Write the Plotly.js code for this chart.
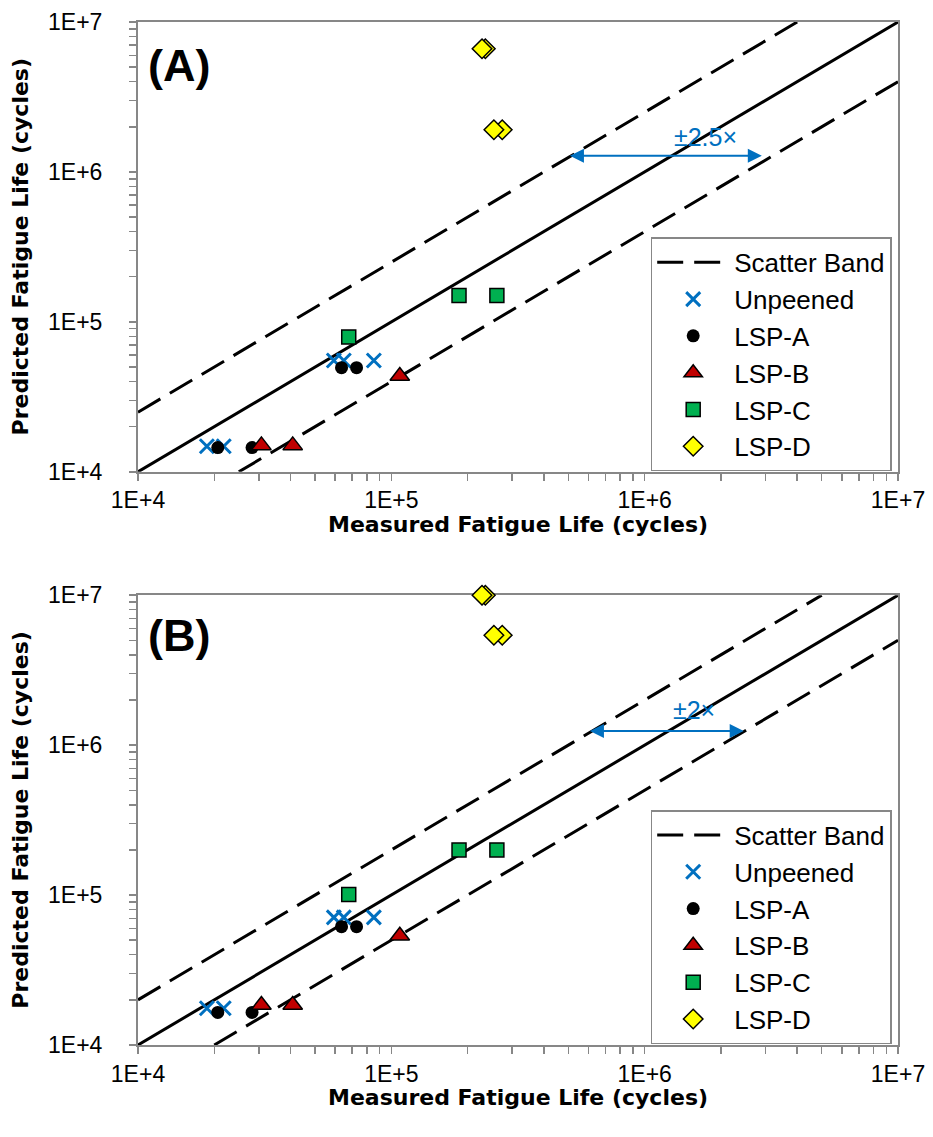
<!DOCTYPE html>
<html>
<head>
<meta charset="utf-8">
<script src="https://cdn.plot.ly/plotly-3.0.1.min.js"></script>
<style>
  html, body { margin: 0; padding: 0; background: #ffffff; }
  #chart { width: 933px; height: 1137px; }
</style>
</head>
<body>
<div id="chart"></div>
<script>
// Measured fatigue life (cycles) for each specimen group
const measuredUnpeened = [18700, 21800, 59300, 64900, 85300];
const measuredLspA = [20650, 28200, 63600, 72900];
const measuredLspB = [30700, 40800, 108000];
const measuredLspC = [67900, 185000, 261000];
const measuredLspD = [235000, 228000, 274000, 254000];

// Predicted fatigue life, model (A)
const predA_Unpeened = [14800, 14800, 55300, 55300, 55300];
const predA_LspA = [14500, 14500, 49500, 49500];
const predA_LspB = [15000, 15000, 43500];
const predA_LspC = [79300, 150000, 150000];
const predA_LspD = [6630000, 6630000, 1910000, 1910000];

// Predicted fatigue life, model (B)
const predB_Unpeened = [17600, 17600, 71000, 71000, 71000];
const predB_LspA = [16500, 16500, 61500, 61500];
const predB_LspB = [18500, 18500, 53500];
const predB_LspC = [101000, 200000, 200000];
const predB_LspD = [10000000, 10000000, 5410000, 5410000];

// Scatter band factors and the arrows marking their width
const bandFactorA = 2.5;
const bandFactorB = 2;
const bandLabelA = '±2.5×';
const bandLabelB = '±2×';
const arrowA = { x0: 500000, x1: 2900000, y: 1280000, labelX: 1740000, labelY: 1700000 };
const arrowB = { x0: 600000, x1: 2460000, y: 1240000, labelX: 1560000, labelY: 1710000 };

// Axis extent, tick labels and titles
const axisMin = 1e4;
const axisMax = 1e7;
const majorTicks = [1e4, 1e5, 1e6, 1e7];
const majorTickText = ['1E+4', '1E+5', '1E+6', '1E+7'];
const xTitleText = 'Measured Fatigue Life (cycles)';
const yTitleText = 'Predicted Fatigue Life (cycles)';

const FONT = 'Liberation Sans, Arial, sans-serif';
const TITLE_FONT = 'DejaVu Sans, Liberation Sans, sans-serif';
const GREY = '#878787';
const BLUE = '#0070C0';

const minorTicks = [];
for (let d = 4; d < 7; d++) {
  for (let m = 2; m <= 9; m++) minorTicks.push(m * Math.pow(10, d));
}

const seriesStyles = [
  { name: 'Unpeened', marker: { symbol: 'x-thin-open', size: 14, color: BLUE, line: { color: BLUE, width: 3 } } },
  { name: 'LSP-A', marker: { symbol: 'circle', size: 13, color: '#000000', line: { color: '#000000', width: 0 } } },
  { name: 'LSP-B', marker: { symbol: 'triangle-up', size: 17, color: '#C00000', line: { color: '#000000', width: 1.5 } } },
  { name: 'LSP-C', marker: { symbol: 'square', size: 14, color: '#00B050', line: { color: '#000000', width: 1.5 } } },
  { name: 'LSP-D', marker: { symbol: 'diamond', size: 15, color: '#FFFF00', line: { color: '#000000', width: 1.5 } } }
];
const measured = [measuredUnpeened, measuredLspA, measuredLspB, measuredLspC, measuredLspD];
const predictedA = [predA_Unpeened, predA_LspA, predA_LspB, predA_LspC, predA_LspD];
const predictedB = [predB_Unpeened, predB_LspA, predB_LspB, predB_LspC, predB_LspD];

function panelTraces(xa, ya, legendId, factor, predicted) {
  const traces = [];
  const dash = '26px,11px';
  // perfect-agreement line
  traces.push({
    x: [axisMin, axisMax], y: [axisMin, axisMax], xaxis: xa, yaxis: ya,
    mode: 'lines', line: { color: '#000000', width: 3 }, showlegend: false, hoverinfo: 'skip'
  });
  // upper and lower scatter band limits
  const upX = [axisMin, axisMax / factor];
  traces.push({
    x: upX, y: upX.map(v => v * factor), xaxis: xa, yaxis: ya, legend: legendId,
    mode: 'lines', name: 'Scatter Band', line: { color: '#000000', width: 3, dash: dash }
  });
  const loX = [axisMin * factor, axisMax];
  traces.push({
    x: loX, y: loX.map(v => v / factor), xaxis: xa, yaxis: ya,
    mode: 'lines', showlegend: false, line: { color: '#000000', width: 3, dash: dash }
  });
  seriesStyles.forEach((s, i) => {
    traces.push({
      x: measured[i], y: predicted[i], xaxis: xa, yaxis: ya, legend: legendId,
      mode: 'markers', name: s.name, marker: s.marker, cliponaxis: false
    });
  });
  return traces;
}

const data = panelTraces('x', 'y', 'legend', bandFactorA, predictedA)
  .concat(panelTraces('x2', 'y2', 'legend2', bandFactorB, predictedB));

function logAxis(extra) {
  return Object.assign({
    type: 'log',
    range: [Math.log10(axisMin), Math.log10(axisMax)],
    tickmode: 'array', tickvals: majorTicks, ticktext: majorTickText,
    ticks: 'outside', ticklen: 7, tickwidth: 1.5, tickcolor: GREY,
    minor: { tickvals: minorTicks, ticks: 'outside', ticklen: 7, tickwidth: 1.5, tickcolor: GREY },
    showline: true, linecolor: GREY, linewidth: 2, mirror: true,
    showgrid: false, zeroline: false, layer: 'below traces',
    tickfont: { family: FONT, size: 23, color: '#000000' },
    automargin: false
  }, extra);
}

const topDomain = [0.5603, 1];
const bottomDomain = [0, 0.4397];

function legendBox(yMid) {
  return {
    x: 0.9917, xanchor: 'right', y: yMid, yanchor: 'middle',
    bgcolor: '#ffffff', bordercolor: GREY, borderwidth: 1.5,
    font: { family: FONT, size: 26, color: '#000000' },
    itemwidth: 72, traceorder: 'normal'
  };
}

function arrowAnn(xa, ya, a) {
  return {
    xref: xa, yref: ya, axref: xa, ayref: ya,
    x: Math.log10(a.x1), y: Math.log10(a.y), ax: Math.log10(a.x0), ay: Math.log10(a.y),
    text: '', showarrow: true, arrowside: 'end+start', arrowhead: 2, startarrowhead: 2,
    arrowsize: 1.4, startarrowsize: 1.4, arrowwidth: 2, arrowcolor: BLUE
  };
}
function bandLabel(xa, ya, a, txt) {
  return {
    xref: xa, yref: ya, x: Math.log10(a.labelX), y: Math.log10(a.labelY),
    xanchor: 'center', yanchor: 'middle',
    text: txt, showarrow: false, font: { family: FONT, size: 25, color: BLUE }
  };
}
function panelTag(xa, ya, txt, yFrac) {
  return {
    xref: xa + ' domain', yref: ya + ' domain', x: 0.0533, y: yFrac,
    xanchor: 'center', yanchor: 'middle',
    text: txt, showarrow: false, font: { family: FONT, size: 45, color: '#000000', weight: 700 }
  };
}
function axisTitles(xa, ya, xTitleY) {
  const f = { family: TITLE_FONT, size: 22, color: '#000000', weight: 700 };
  return [
    { xref: xa + ' domain', yref: ya + ' domain', x: 0.5, y: xTitleY, xanchor: 'center', yanchor: 'middle',
      text: xTitleText, showarrow: false, font: f },
    { xref: xa + ' domain', yref: ya + ' domain', x: -0.1545, y: 0.5, xanchor: 'center', yanchor: 'middle',
      textangle: -90, text: yTitleText, showarrow: false, font: f }
  ];
}

const layout = {
  width: 933, height: 1137,
  margin: { l: 137.5, r: 35, t: 21.5, b: 92 },
  paper_bgcolor: '#ffffff', plot_bgcolor: '#ffffff',
  showlegend: true,
  xaxis: logAxis({ anchor: 'y' }),
  yaxis: logAxis({ anchor: 'x', domain: topDomain, ticklabelstandoff: 22 }),
  xaxis2: logAxis({ anchor: 'y2' }),
  yaxis2: logAxis({ anchor: 'x2', domain: bottomDomain, ticklabelstandoff: 22 }),
  legend: legendBox(0.6751),
  legend2: legendBox(0.1153),
  annotations: [
    panelTag('x', 'y', '(A)', 0.9033),
    panelTag('x2', 'y2', '(B)', 0.911),
    arrowAnn('x', 'y', arrowA),
    bandLabel('x', 'y', arrowA, bandLabelA),
    arrowAnn('x2', 'y2', arrowB),
    bandLabel('x2', 'y2', arrowB, bandLabelB)
  ].concat(axisTitles('x', 'y', -0.117), axisTitles('x2', 'y2', -0.117))
};

Plotly.newPlot('chart', data, layout, { displayModeBar: false, staticPlot: true });
</script>
</body>
</html>
